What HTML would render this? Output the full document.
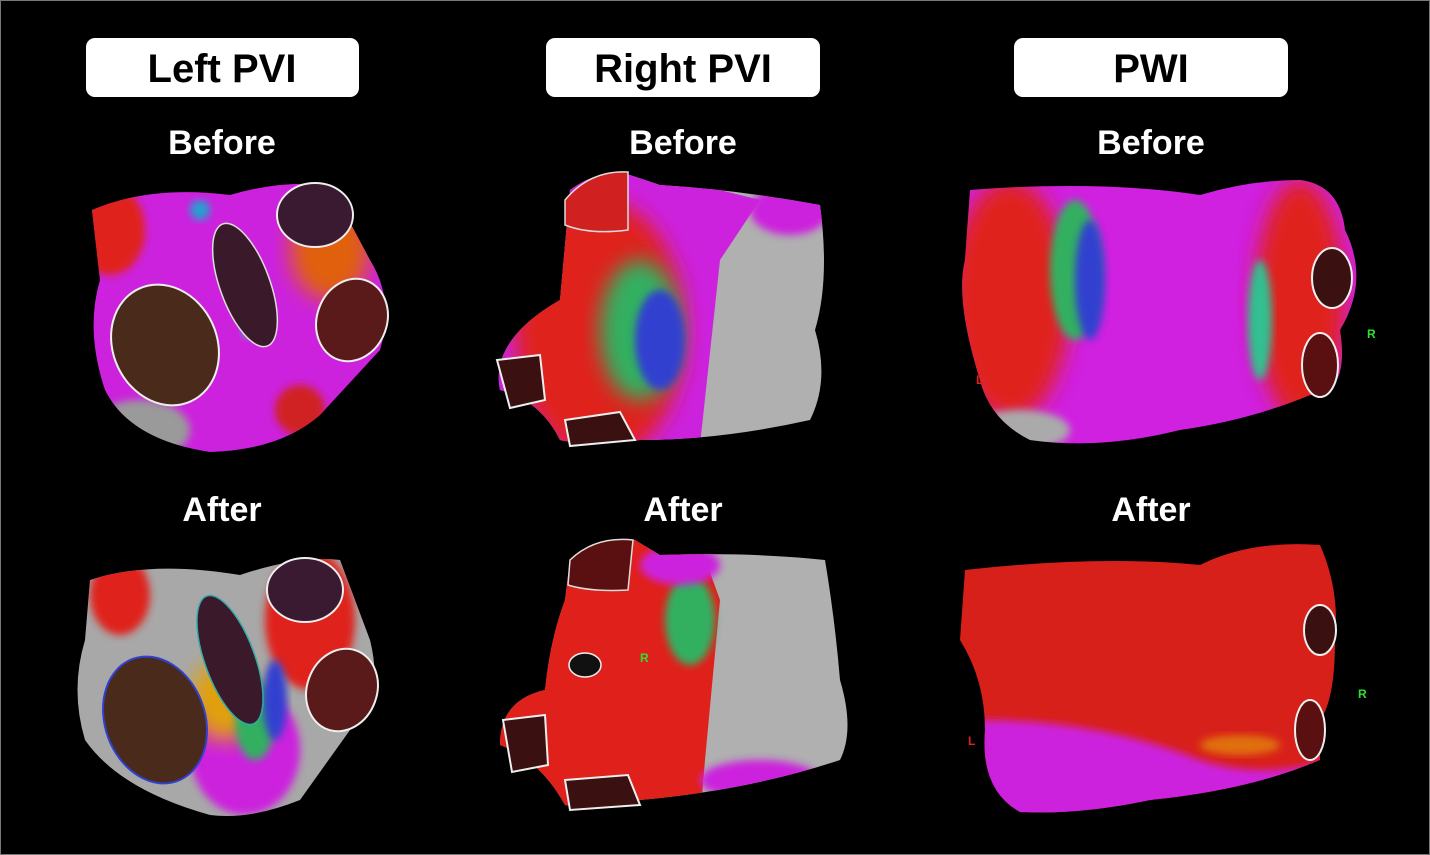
<!DOCTYPE html>
<html><head><meta charset="utf-8"><style>
html,body{margin:0;padding:0;background:#000;}
svg{display:block}
text{font-family:"Liberation Sans",Arial,sans-serif;font-weight:bold}
</style></head><body>
<svg width="1430" height="855" viewBox="0 0 1430 855">
<defs>
<filter id="bl" x="-20%" y="-20%" width="140%" height="140%"><feGaussianBlur stdDeviation="10"/></filter>
<filter id="bl2" x="-20%" y="-20%" width="140%" height="140%"><feGaussianBlur stdDeviation="4"/></filter>
</defs>
<rect x="0.5" y="0.5" width="1429" height="854" fill="#000" stroke="#777" stroke-width="1"/>

<g>
<rect x="86" y="38" width="273" height="59" rx="9" fill="#fff"/>
<text x="222" y="82" font-size="40" text-anchor="middle" fill="#000">Left PVI</text>
<rect x="546" y="38" width="274" height="59" rx="9" fill="#fff"/>
<text x="683" y="82" font-size="40" text-anchor="middle" fill="#000">Right PVI</text>
<rect x="1014" y="38" width="274" height="59" rx="9" fill="#fff"/>
<text x="1151" y="82" font-size="40" text-anchor="middle" fill="#000">PWI</text>
</g>
<g fill="#fff" font-size="34" text-anchor="middle">
<text x="222" y="154">Before</text>
<text x="683" y="154">Before</text>
<text x="1151" y="154">Before</text>
<text x="222" y="521">After</text>
<text x="683" y="521">After</text>
<text x="1151" y="521">After</text>
</g>

<!-- Left PVI before -->
<g>
<clipPath id="c1"><path d="M92 210 Q150 185 230 195 Q280 180 330 185 L370 260 Q395 300 380 350 L320 415 Q280 450 210 452 Q130 440 105 390 Q85 330 100 280 Z"/></clipPath>
<g clip-path="url(#c1)">
<rect x="80" y="175" width="320" height="290" fill="#cc22dd"/>
<ellipse cx="110" cy="230" rx="35" ry="45" fill="#e0201a" filter="url(#bl2)"/>
<ellipse cx="140" cy="430" rx="50" ry="30" fill="#9a9a9a" filter="url(#bl2)"/>
<ellipse cx="330" cy="250" rx="40" ry="50" fill="#e06010" filter="url(#bl)"/>
<ellipse cx="300" cy="410" rx="25" ry="25" fill="#d02020" filter="url(#bl2)"/>
<circle cx="200" cy="210" r="10" fill="#20a0d0" filter="url(#bl2)"/>
<circle cx="250" cy="330" r="8" fill="#30c0a0" filter="url(#bl2)"/>
</g>
<ellipse cx="165" cy="345" rx="52" ry="62" transform="rotate(-25 165 345)" fill="#4a2a1a" stroke="#eee" stroke-width="2"/>
<ellipse cx="245" cy="285" rx="25" ry="65" transform="rotate(-20 245 285)" fill="#3a1a2a" stroke="#ddd" stroke-width="1.5"/>
<ellipse cx="315" cy="215" rx="38" ry="32" fill="#3a1a30" stroke="#eee" stroke-width="2"/>
<ellipse cx="352" cy="320" rx="35" ry="42" transform="rotate(20 352 320)" fill="#5a1a1a" stroke="#eee" stroke-width="2"/>
</g>

<!-- Right PVI before -->
<g>
<clipPath id="c2"><path d="M570 190 Q600 168 630 175 L660 185 Q740 190 820 205 Q830 280 815 330 Q830 380 810 420 Q720 440 640 440 Q580 445 560 440 Q540 400 500 390 Q490 340 560 300 Z"/></clipPath>
<g clip-path="url(#c2)">
<rect x="490" y="165" width="345" height="285" fill="#b0b0b0"/>
<path d="M630 170 L720 190 L760 200 L720 260 L700 445 L490 450 L490 170 Z" fill="#cc22dd"/>
<ellipse cx="600" cy="330" rx="85" ry="130" fill="#e0201a" filter="url(#bl)"/>
<ellipse cx="640" cy="330" rx="40" ry="70" fill="#30b060" filter="url(#bl)"/>
<ellipse cx="660" cy="340" rx="25" ry="50" fill="#3040d0" filter="url(#bl2)"/>
<ellipse cx="790" cy="210" rx="40" ry="25" fill="#cc22dd" filter="url(#bl2)"/>
</g>
<path d="M565 200 Q590 170 628 172 L628 230 Q590 235 565 225 Z" fill="#d02020" stroke="#ddd" stroke-width="1.5"/>
<path d="M497 360 L540 355 L545 400 L510 408 Z" fill="#3a1010" stroke="#eee" stroke-width="2"/>
<path d="M565 420 L620 412 L635 440 L570 446 Z" fill="#3a1010" stroke="#eee" stroke-width="2"/>
</g>

<!-- PWI before -->
<g>
<clipPath id="c3"><path d="M970 190 Q1100 180 1200 195 Q1250 180 1300 180 Q1340 185 1345 230 Q1370 280 1340 330 Q1350 395 1310 395 Q1250 420 1180 430 Q1100 450 1030 440 Q990 420 980 380 Q955 300 965 260 Z"/></clipPath>
<g clip-path="url(#c3)">
<rect x="955" y="175" width="420" height="280" fill="#d020e0"/>
<ellipse cx="1010" cy="300" rx="60" ry="120" fill="#e0201a" filter="url(#bl)"/>
<ellipse cx="1075" cy="270" rx="25" ry="70" fill="#30b060" filter="url(#bl2)"/>
<ellipse cx="1090" cy="280" rx="15" ry="60" fill="#3040d0" filter="url(#bl2)"/>
<ellipse cx="1300" cy="300" rx="45" ry="120" fill="#e0201a" filter="url(#bl)"/>
<ellipse cx="1260" cy="320" rx="12" ry="60" fill="#30c090" filter="url(#bl2)"/>
<ellipse cx="1020" cy="430" rx="50" ry="20" fill="#aaa" filter="url(#bl2)"/>
</g>
<ellipse cx="1332" cy="278" rx="20" ry="30" fill="#3a1010" stroke="#eee" stroke-width="2"/>
<ellipse cx="1320" cy="365" rx="18" ry="32" fill="#5a1010" stroke="#eee" stroke-width="2"/>
<text x="976" y="384" font-size="12" fill="#e02020">L</text>
<text x="1367" y="338" font-size="12" fill="#30e030">R</text>
</g>

<!-- Left PVI after -->
<g>
<clipPath id="c4"><path d="M90 580 Q150 560 240 575 Q300 555 340 560 L370 640 Q385 700 350 730 L300 800 Q250 820 210 815 Q120 790 85 740 Q70 690 85 640 Z"/></clipPath>
<g clip-path="url(#c4)">
<rect x="70" y="550" width="320" height="275" fill="#a8a8a8"/>
<ellipse cx="120" cy="595" rx="30" ry="40" fill="#e0201a" filter="url(#bl2)"/>
<ellipse cx="310" cy="620" rx="45" ry="70" fill="#e0201a" filter="url(#bl2)"/>
<ellipse cx="245" cy="750" rx="55" ry="65" fill="#cc22dd" filter="url(#bl2)"/>
<ellipse cx="225" cy="700" rx="35" ry="40" fill="#e0a010" filter="url(#bl)"/>
<ellipse cx="255" cy="720" rx="20" ry="40" fill="#30b060" filter="url(#bl2)"/>
<ellipse cx="275" cy="700" rx="12" ry="40" fill="#3040d0" filter="url(#bl2)"/>
</g>
<ellipse cx="155" cy="720" rx="50" ry="65" transform="rotate(-20 155 720)" fill="#4a2a1a" stroke="#3040d0" stroke-width="2"/>
<ellipse cx="230" cy="660" rx="25" ry="68" transform="rotate(-20 230 660)" fill="#3a1a2a" stroke="#3aa" stroke-width="1.5"/>
<ellipse cx="305" cy="590" rx="38" ry="32" fill="#3a1a30" stroke="#eee" stroke-width="2"/>
<ellipse cx="342" cy="690" rx="35" ry="42" transform="rotate(20 342 690)" fill="#5a1a1a" stroke="#eee" stroke-width="2"/>
</g>

<!-- Right PVI after -->
<g>
<clipPath id="c5"><path d="M570 560 Q600 536 635 540 L660 555 Q750 552 825 560 Q835 620 840 680 Q855 730 840 760 Q750 790 640 800 Q600 812 565 805 Q540 760 500 745 Q500 700 545 690 Q550 640 565 600 Z"/></clipPath>
<g clip-path="url(#c5)">
<rect x="490" y="530" width="370" height="290" fill="#b0b0b0"/>
<path d="M560 535 L700 545 L720 600 L705 760 L700 820 L490 820 L490 535 Z" fill="#e0201a"/>
<ellipse cx="690" cy="620" rx="25" ry="45" fill="#30b060" filter="url(#bl2)"/>
<ellipse cx="680" cy="565" rx="40" ry="20" fill="#cc22dd" filter="url(#bl2)"/>
<ellipse cx="760" cy="780" rx="60" ry="20" fill="#cc22dd" filter="url(#bl2)"/>
</g>
<path d="M570 560 Q595 536 633 540 L628 590 Q590 592 568 585 Z" fill="#5a1010" stroke="#ddd" stroke-width="1.5"/>
<path d="M503 720 L545 715 L548 765 L512 772 Z" fill="#3a1010" stroke="#eee" stroke-width="2"/>
<path d="M565 780 L628 775 L640 805 L570 810 Z" fill="#3a1010" stroke="#eee" stroke-width="2"/>
<ellipse cx="585" cy="665" rx="16" ry="12" fill="#111" stroke="#eee" stroke-width="1.5"/>
<text x="640" y="662" font-size="12" fill="#30e030">R</text>
</g>

<!-- PWI after -->
<g>
<clipPath id="c6"><path d="M965 570 Q1100 555 1200 565 Q1250 540 1320 545 Q1340 590 1335 640 Q1335 700 1320 720 L1320 760 Q1250 790 1150 800 Q1080 815 1020 812 Q980 790 985 730 Q985 680 960 640 Z"/></clipPath>
<g clip-path="url(#c6)">
<rect x="950" y="530" width="400" height="290" fill="#d8201a"/>
<path d="M980 720 Q1100 720 1200 760 Q1260 780 1330 760 L1330 820 L980 820 Z" fill="#cc22dd" filter="url(#bl2)"/>
<ellipse cx="1240" cy="745" rx="40" ry="10" fill="#e07010" filter="url(#bl2)"/>
</g>
<ellipse cx="1320" cy="630" rx="16" ry="25" fill="#3a1010" stroke="#eee" stroke-width="2"/>
<ellipse cx="1310" cy="730" rx="15" ry="30" fill="#5a1010" stroke="#eee" stroke-width="2"/>
<text x="968" y="745" font-size="12" fill="#e02020">L</text>
<text x="1358" y="698" font-size="12" fill="#30e030">R</text>
</g>
</svg>
</body></html>
